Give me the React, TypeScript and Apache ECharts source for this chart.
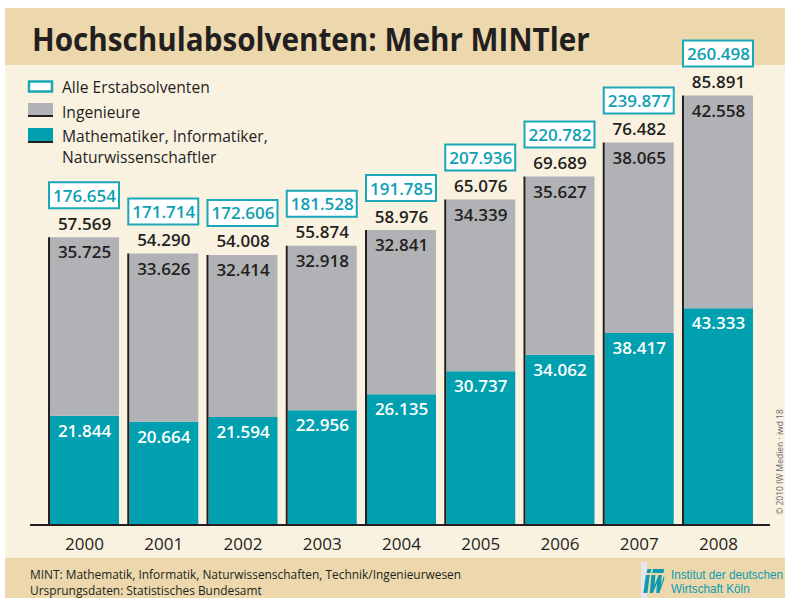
import { useEffect, useRef } from 'react';
import * as echarts from 'echarts';

const years = ['2000', '2001', '2002', '2003', '2004', '2005', '2006', '2007', '2008'];
const mint = [21.844, 20.664, 21.594, 22.956, 26.135, 30.737, 34.062, 38.417, 43.333];
const ingenieure = [35.725, 33.626, 32.414, 32.918, 32.841, 34.339, 35.627, 38.065, 42.558];
const totalMint = [57.569, 54.29, 54.008, 55.874, 58.976, 65.076, 69.689, 76.482, 85.891];
const alleErst = [176.654, 171.714, 172.606, 181.528, 191.785, 207.936, 220.782, 239.877, 260.498];

const TEAL = '#00A0B0';
const GRAY = '#B1B2B6';
const BOX = '#1AA7B8';
const DARK = '#231F20';
const CREAM = '#FAF2E1';
const BEIGE = '#ECD8AC';

const logoPath =
  'M3 0 L8 0 L7 4 L2 4 Z M10 0 L24 0 L23 4 L9 4 Z M1 6 L6 6 L3 24 L-2 24 Z ' +
  'M8 6 L13 6 L12 16 L17 6 L21 6 L20 16 L24 6 L24 10 L18 24 L14 24 L15 14 L10 24 L6 24 Z';
echarts.graphic.registerShape('iwlogo', echarts.graphic.extendPath(logoPath, {}));

function fit(text: string, font: string, target: number): number {
  const c = document.createElement('canvas').getContext('2d');
  if (!c) return 1;
  c.font = font;
  const w = c.measureText(text).width;
  return w > 0 ? target / w : 1;
}

const fmt = (v: number) => v.toFixed(3);

export default function App() {
  const ref = useRef<HTMLDivElement>(null);
  useEffect(() => {
    if (!ref.current) return;
    const chart = echarts.init(ref.current, null, { renderer: 'svg' });

    const titleText = 'Hochschulabsolventen: Mehr MINTler';
    const titleFont = 'bold 33px "Open Sans"';
    const titleScale = fit(titleText, titleFont, 558);

    const legFont = '15.5px "Open Sans"';
    const legScale = fit('Mathematiker, Informatiker,', legFont, 206);

    const footFont = '12.5px "Open Sans"';
    const foot1 = 'MINT: Mathematik, Informatik, Naturwissenschaften, Technik/Ingenieurwesen';
    const footScale = fit(foot1, footFont, 432);

    const logoFont = '13.5px "Liberation Sans"';
    const logoScale = fit('Institut der deutschen', logoFont, 112);

    const legText = (t: string, y: number) => ({
      type: 'text', x: 62, y, scaleX: legScale, scaleY: 1,
      style: { text: t, x: 0, y: 0, font: legFont, fill: DARK, align: 'left', verticalAlign: 'middle' },
    });

    const labelData = years.map((_, i) => [i, totalMint[i], alleErst[i]]);

    chart.setOption({
      animation: false,
      backgroundColor: '#ffffff',
      grid: { left: 44.9, right: 26.9, top: 25, bottom: 73 },
      xAxis: {
        type: 'category',
        data: years,
        axisLine: { show: false },
        axisTick: { show: false },
        axisLabel: { fontSize: 17, color: DARK, margin: 10, fontFamily: 'Open Sans' },
      },
      yAxis: { type: 'value', min: 0, max: 100, show: false },
      series: [
        {
          type: 'bar', stack: 'a', data: mint, barWidth: 69,
          itemStyle: { color: TEAL },
          label: {
            show: true, position: 'insideTop', distance: 6, color: '#ffffff',
            fontFamily: 'Open Sans', fontWeight: 600, fontSize: 17,
            formatter: (p: any) => fmt(p.value),
          },
        },
        {
          type: 'bar', stack: 'a', data: ingenieure, barWidth: 69,
          itemStyle: { color: GRAY },
          label: {
            show: true, position: 'insideTop', distance: 6, color: DARK,
            fontFamily: 'Open Sans', fontWeight: 600, fontSize: 17,
            formatter: (p: any) => fmt(p.value),
          },
        },
        {
          type: 'custom',
          data: labelData,
          z: 5,
          renderItem: (_params: any, api: any) => {
            const idx = api.value(0);
            const total = api.value(1);
            const all = api.value(2);
            const top = api.coord([idx, total]);
            const base = api.coord([idx, 0]);
            const bw = 69;
            const left = top[0] - bw / 2;
            return {
              type: 'group',
              children: [
                { type: 'rect', shape: { x: left - 2, y: top[1], width: 2, height: base[1] - top[1] }, style: { fill: DARK } },
                {
                  type: 'text',
                  style: {
                    text: fmt(total), x: top[0], y: top[1] - 14, align: 'center', verticalAlign: 'middle',
                    font: '600 17px "Open Sans"', fill: DARK,
                  },
                },
                {
                  type: 'rect', shape: { x: left - 1, y: top[1] - 55, width: 70, height: 26 },
                  style: { fill: '#ffffff', stroke: BOX, lineWidth: 2 },
                },
                {
                  type: 'text',
                  style: {
                    text: fmt(all), x: top[0], y: top[1] - 42, align: 'center', verticalAlign: 'middle',
                    font: '600 17px "Open Sans"', fill: '#0FA0B3',
                  },
                },
              ],
            };
          },
        },
      ],
      graphic: [
        { type: 'rect', z: -10, shape: { x: 5, y: 8, width: 780, height: 57 }, style: { fill: BEIGE } },
        { type: 'rect', z: -10, shape: { x: 5, y: 65, width: 780, height: 493 }, style: { fill: CREAM } },
        { type: 'rect', z: -10, shape: { x: 5, y: 558, width: 780, height: 40 }, style: { fill: BEIGE } },
        {
          type: 'text', x: 32, y: 37.5, scaleX: titleScale, scaleY: 1,
          style: { text: titleText, x: 0, y: 0, font: titleFont, fill: DARK, align: 'left', verticalAlign: 'middle' },
        },
        // legend
        { type: 'rect', shape: { x: 29, y: 81.5, width: 23, height: 10 }, style: { fill: '#ffffff', stroke: BOX, lineWidth: 2.5 } },
        { type: 'rect', shape: { x: 28, y: 103, width: 25, height: 12 }, style: { fill: GRAY } },
        { type: 'rect', shape: { x: 28, y: 115, width: 25, height: 2 }, style: { fill: DARK } },
        { type: 'rect', shape: { x: 28, y: 128, width: 25, height: 13 }, style: { fill: TEAL } },
        { type: 'rect', shape: { x: 28, y: 141, width: 25, height: 2 }, style: { fill: DARK } },
        legText('Alle Erstabsolventen', 87),
        legText('Ingenieure', 112),
        legText('Mathematiker, Informatiker,', 136),
        legText('Naturwissenschaftler', 157),
        // axis line
        { type: 'line', z: 10, shape: { x1: 30, y1: 525, x2: 770, y2: 525 }, style: { stroke: DARK, lineWidth: 2 } },
        // copyright
        {
          type: 'text', x: 779, y: 462, rotation: Math.PI / 2,
          style: { text: '© 2010 IW Medien · iwd 18', x: 0, y: 0, font: '8.5px "Open Sans"', fill: '#6a6a6a', align: 'center', verticalAlign: 'middle' },
        },
        // footer
        {
          type: 'text', x: 30, y: 574, scaleX: footScale, scaleY: 1,
          style: { text: foot1, x: 0, y: 0, font: footFont, fill: DARK, align: 'left', verticalAlign: 'middle' },
        },
        {
          type: 'text', x: 30, y: 590, scaleX: footScale, scaleY: 1,
          style: { text: 'Ursprungsdaten: Statistisches Bundesamt', x: 0, y: 0, font: footFont, fill: DARK, align: 'left', verticalAlign: 'middle' },
        },
        { type: 'rect', shape: { x: 641, y: 562, width: 6, height: 36 }, style: { fill: '#E6E4EC' } },
        { type: 'iwlogo', x: 645, y: 569, scaleX: 0.8, scaleY: 1, style: { fill: '#0E9BB0' } },
        {
          type: 'text', x: 671, y: 575, scaleX: logoScale, scaleY: 1,
          style: { text: 'Institut der deutschen', x: 0, y: 0, font: logoFont, fill: '#0E9BB0', align: 'left', verticalAlign: 'middle' },
        },
        {
          type: 'text', x: 671, y: 589, scaleX: logoScale, scaleY: 1,
          style: { text: 'Wirtschaft Köln', x: 0, y: 0, font: logoFont, fill: '#0E9BB0', align: 'left', verticalAlign: 'middle' },
        },
      ],
    });
    return () => chart.dispose();
  }, []);
  return <div ref={ref} style={{ position: 'fixed', left: 0, top: 0, width: 785, height: 598 }} />;
}
